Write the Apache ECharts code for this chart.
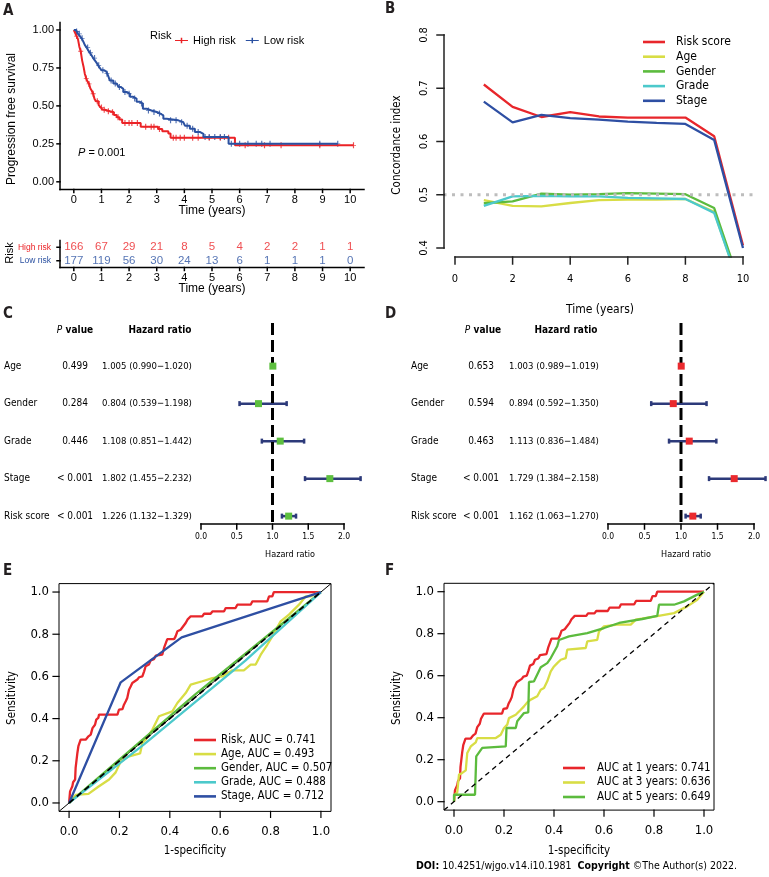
<!DOCTYPE html>
<html>
<head>
<meta charset="utf-8">
<script src="https://cdn.jsdelivr.net/npm/echarts@6/dist/echarts.min.js"></script>
<style>
html, body { margin: 0; padding: 0; background: #fff; }
#chart { width: 769px; height: 877px; background: #fff; }
</style>
</head>
<body>
<div id="chart"></div>
<script>
// ---------- A: Kaplan-Meier, [time, survival after the step] ----------
const kmHigh = [[0,1],[0.05,0.98],[0.1,0.96],[0.15,0.94],[0.2,0.89],[0.25,0.86],[0.3,0.8],[0.35,0.76],[0.4,0.71],[0.45,0.68],[0.5,0.66],[0.55,0.645],[0.6,0.615],[0.65,0.6],[0.7,0.58],[0.75,0.545],[0.8,0.53],[0.9,0.505],[0.97,0.49],[1.04,0.475],[1.12,0.465],[1.3,0.458],[1.45,0.44],[1.55,0.425],[1.65,0.41],[1.75,0.388],[2.42,0.362],[3.05,0.348],[3.2,0.333],[3.42,0.318],[3.5,0.29],[5.83,0.24],[10.12,0.24]];
const kmLow = [[0,1],[0.08,0.99],[0.15,0.975],[0.22,0.96],[0.28,0.945],[0.34,0.925],[0.4,0.9],[0.46,0.885],[0.52,0.866],[0.58,0.85],[0.64,0.833],[0.7,0.815],[0.76,0.8],[0.82,0.785],[0.88,0.767],[0.94,0.75],[1.0,0.735],[1.08,0.725],[1.18,0.712],[1.24,0.7],[1.3,0.668],[1.43,0.648],[1.55,0.636],[1.62,0.625],[1.7,0.612],[1.79,0.592],[1.91,0.58],[2.03,0.56],[2.15,0.548],[2.27,0.527],[2.39,0.515],[2.5,0.482],[2.63,0.47],[2.81,0.46],[3.0,0.45],[3.12,0.437],[3.24,0.416],[3.36,0.405],[3.78,0.393],[3.96,0.382],[4.02,0.37],[4.2,0.35],[4.38,0.328],[4.57,0.316],[4.69,0.295],[5.6,0.25],[9.55,0.25]];
const censorHigh = [0.1,0.25,0.45,0.55,0.7,0.85,1.0,1.1,1.25,1.4,1.6,1.85,2.0,2.1,2.3,2.6,2.8,2.9,3.1,3.6,3.7,3.85,4.0,4.3,4.5,4.9,5.3,5.6,6.2,6.9,7.5,8.9,10.12];
const censorLow = [0.1,0.2,0.3,0.5,0.6,0.75,0.9,1.05,1.2,1.35,1.5,1.65,1.85,2.0,2.2,2.45,2.7,2.9,3.1,3.5,3.7,3.9,4.1,4.3,4.5,4.75,4.9,5.1,5.3,5.45,5.7,6.0,6.3,6.6,6.8,7.1,8.9,9.55];
const riskTimes = [0,1,2,3,4,5,6,7,8,9,10];
const survTicks = [0,0.25,0.5,0.75,1];
const atRiskHigh = [166,67,29,21,8,5,4,2,2,1,1];
const atRiskLow = [177,119,56,30,24,13,6,1,1,1,0];

// ---------- B: concordance index over time ----------
const cYears = [1,2,3,4,5,6,7,8,9,10];
const cNames = ['Risk score','Age','Gender','Grade','Stage'];
const cRisk = [0.707,0.665,0.646,0.655,0.647,0.645,0.645,0.645,0.610,0.405];
const cAge = [0.490,0.479,0.478,0.4845,0.490,0.491,0.491,0.492,0.468,0.31];
const cGender = [0.484,0.4875,0.502,0.500,0.501,0.503,0.502,0.501,0.475,0.315];
const cGrade = [0.479,0.497,0.498,0.497,0.497,0.494,0.493,0.492,0.466,0.31];
const cStage = [0.675,0.636,0.650,0.644,0.641,0.6375,0.635,0.633,0.603,0.400];
const cXTicks = [0,2,4,6,8,10];
const cYTicks = [0.4,0.5,0.6,0.7,0.8];

// ---------- C / D: forest plots ----------
const fVars = ['Age','Gender','Grade','Stage','Risk score'];
const uniP = ['0.499','0.284','0.446','< 0.001','< 0.001'];
const uniHR = [1.005,0.804,1.108,1.802,1.226];
const uniLo = [0.990,0.539,0.851,1.455,1.132];
const uniHi = [1.020,1.198,1.442,2.232,1.329];
const multiP = ['0.653','0.594','0.463','< 0.001','< 0.001'];
const multiHR = [1.003,0.894,1.113,1.729,1.162];
const multiLo = [0.989,0.592,0.836,1.384,1.063];
const multiHi = [1.019,1.350,1.484,2.158,1.270];
const hrTicks = [0,0.5,1,1.5,2];

// ---------- E: ROC of risk score and clinical factors ----------
const rocRisk = [[0,0],[0.004,0.055],[0.013,0.079],[0.016,0.098],[0.024,0.111],[0.026,0.166],[0.033,0.237],[0.037,0.269],[0.046,0.3],[0.066,0.3],[0.077,0.316],[0.086,0.324],[0.093,0.355],[0.103,0.371],[0.108,0.395],[0.116,0.403],[0.119,0.419],[0.192,0.419],[0.198,0.442],[0.212,0.445],[0.218,0.466],[0.225,0.482],[0.231,0.498],[0.238,0.537],[0.245,0.553],[0.251,0.569],[0.271,0.585],[0.278,0.596],[0.291,0.6],[0.298,0.624],[0.304,0.648],[0.317,0.656],[0.324,0.676],[0.337,0.682],[0.344,0.698],[0.37,0.703],[0.377,0.735],[0.39,0.777],[0.417,0.777],[0.423,0.79],[0.43,0.814],[0.443,0.821],[0.463,0.853],[0.47,0.869],[0.483,0.885],[0.529,0.885],[0.536,0.897],[0.562,0.897],[0.569,0.908],[0.615,0.908],[0.622,0.924],[0.661,0.924],[0.668,0.94],[0.721,0.94],[0.728,0.956],[0.787,0.956],[0.794,0.979],[0.807,0.979],[0.813,1],[1,1]];
const rocAge = [[0,0],[0.026,0.038],[0.077,0.043],[0.116,0.077],[0.159,0.111],[0.185,0.145],[0.205,0.197],[0.235,0.22],[0.282,0.235],[0.291,0.284],[0.304,0.3],[0.331,0.348],[0.357,0.411],[0.41,0.434],[0.43,0.474],[0.463,0.521],[0.483,0.561],[0.529,0.577],[0.569,0.592],[0.608,0.6],[0.648,0.629],[0.694,0.629],[0.721,0.656],[0.741,0.656],[0.761,0.703],[0.787,0.75],[0.807,0.79],[0.84,0.861],[0.873,0.893],[0.913,0.94],[0.939,0.979],[0.959,0.979],[0.985,0.995],[1,1]];
const rocGender = [[0,0],[0.5,0.514],[1,1]];
const rocGrade = [[0,0],[0.3,0.28],[0.7,0.675],[1,1]];
const rocStage = [[0,0],[0.205,0.572],[0.447,0.785],[1,1]];
const rocNamesE = ['Risk, AUC = 0.741','Age, AUC = 0.493','Gender, AUC = 0.507','Grade, AUC = 0.488','Stage, AUC = 0.712'];

// ---------- F: time-dependent ROC ----------
const roc3y = [[0,0],[0.003,0.033],[0.013,0.044],[0.02,0.129],[0.033,0.137],[0.047,0.149],[0.053,0.232],[0.067,0.263],[0.087,0.283],[0.093,0.303],[0.167,0.303],[0.173,0.311],[0.187,0.319],[0.2,0.351],[0.213,0.367],[0.22,0.398],[0.247,0.414],[0.267,0.438],[0.28,0.454],[0.293,0.473],[0.307,0.486],[0.333,0.502],[0.347,0.533],[0.36,0.541],[0.373,0.573],[0.387,0.621],[0.4,0.644],[0.413,0.66],[0.427,0.676],[0.447,0.684],[0.453,0.724],[0.527,0.732],[0.533,0.763],[0.573,0.771],[0.58,0.811],[0.6,0.835],[0.653,0.843],[0.707,0.843],[0.727,0.867],[0.807,0.883],[0.88,0.898],[0.933,0.93],[0.973,0.962],[1,1]];
const roc5y = [[0,0],[0,0.033],[0.084,0.033],[0.089,0.216],[0.113,0.256],[0.207,0.263],[0.21,0.351],[0.247,0.351],[0.253,0.383],[0.28,0.422],[0.297,0.425],[0.3,0.57],[0.32,0.573],[0.335,0.61],[0.347,0.64],[0.373,0.66],[0.387,0.684],[0.413,0.74],[0.42,0.77],[0.46,0.787],[0.533,0.803],[0.6,0.827],[0.66,0.851],[0.753,0.87],[0.813,0.885],[0.82,0.938],[0.88,0.938],[0.92,0.954],[0.973,0.986],[1,1]];
const rocNamesF = ['AUC at 1 years: 0.741','AUC at 3 years: 0.636','AUC at 5 years: 0.649'];
const ticks01 = [0,0.2,0.4,0.6,0.8,1];

const ARIAL = "'Liberation Sans', Arial, sans-serif";
const TAH = "'DejaVu Sans Condensed', 'DejaVu Sans', sans-serif";
const RED = '#E8262B', YEL = '#D8DD45', GRN = '#5CBB3E', CYN = '#4CC9CB', BLU = '#2E4FA3';
const KMRED = '#EB2226', KMBLU = '#2B51A1', NAVY = '#2D3A7A';

function survAt(curve, t) {
    let s = 1;
    for (const p of curve) {
        if (p[0] <= t) s = p[1]; else break;
    }
    return s;
}
const zip = (xs, ys) => xs.map((x, i) => [x, ys[i]]);
const hrText = (hr, lo, hi) => hr.toFixed(3) + ' (' + lo.toFixed(3) + '\u2212' + hi.toFixed(3) + ')';
const plusIcon = 'path://M0,2.4H6.2V0H7.8V2.4H14V3.6H7.8V6H6.2V3.6H0Z';
const plusMark = 'path://M2.3,0H3.7V2.6H6V3.4H3.7V6H2.3V3.4H0V2.6H2.3Z';

const chart = echarts.init(document.getElementById('chart'));

// ECharts axes give the scales and the tick labels; lines and ticks are added after the first render
function labelAxis(extra) {
    return Object.assign({ type: 'value', splitLine: { show: false }, axisLine: { show: false, onZero: false }, axisTick: { show: false } }, extra);
}
function rocAxis(gi, margin) {
    return labelAxis({ gridIndex: gi, min: -0.04, max: 1.04,
        axisLabel: { customValues: ticks01, formatter: v => v.toFixed(1), fontSize: 13, fontFamily: TAH, color: '#000', margin: margin } });
}
function forestX(gi) {
    return labelAxis({ gridIndex: gi, min: 0, max: 2, interval: 0.5,
        axisLabel: { formatter: v => v.toFixed(1), fontSize: 8.5, fontFamily: TAH, color: '#000', margin: 8 } });
}
function forestCol(gi, offset, align, fmt, style) {
    return {
        type: 'value', gridIndex: gi, min: -0.15, max: 5.21, inverse: true,
        position: 'left', offset: offset,
        axisLine: { show: false }, axisTick: { show: false }, splitLine: { show: false },
        axisLabel: Object.assign({ customValues: [1,2,3,4,5], formatter: v => fmt(v - 1), align: align, margin: 0,
            fontSize: 10, fontFamily: TAH, color: '#000' }, style || {})
    };
}
function forestData(gi) {
    return { type: 'value', gridIndex: gi, min: -0.15, max: 5.21, inverse: true, show: false };
}
function forestSeries(xi, yi, hr, lo, hi, sqColor) {
    const rows = hr.map((v, i) => [v, lo[i], hi[i], i + 1]);
    return [
        {
            type: 'custom', xAxisIndex: xi, yAxisIndex: yi, clip: false, z: 1, data: rows,
            renderItem: function (params, api) {
                const y = api.coord([0, api.value(3)])[1];
                const x1 = api.coord([api.value(1), 0])[0];
                const x2 = api.coord([api.value(2), 0])[0];
                const st = { stroke: NAVY, lineWidth: 2.5 };
                return { type: 'group', children: [
                    { type: 'line', shape: { x1: x1, y1: y, x2: x2, y2: y }, style: st },
                    { type: 'line', shape: { x1: x1, y1: y - 2.5, x2: x1, y2: y + 2.5 }, style: st },
                    { type: 'line', shape: { x1: x2, y1: y - 2.5, x2: x2, y2: y + 2.5 }, style: st }
                ] };
            }
        },
        {
            type: 'line', xAxisIndex: xi, yAxisIndex: yi, z: 2, symbol: 'none', silent: true,
            data: [[1, -0.15], [1, 5.21]],
            lineStyle: { color: '#000', width: 3, type: [12, 5] }
        },
        {
            type: 'custom', xAxisIndex: xi, yAxisIndex: yi, clip: false, z: 3, data: rows,
            renderItem: function (params, api) {
                const p = api.coord([api.value(0), api.value(3)]);
                return { type: 'rect', shape: { x: p[0] - 3.5, y: p[1] - 3.5, width: 7, height: 7 }, style: { fill: sqColor } };
            }
        }
    ];
}
function rocLine(name, data, color, xi, w) {
    return { name: name, type: 'line', xAxisIndex: xi, yAxisIndex: xi === 6 ? 12 : 13, data: data,
        symbol: 'none', lineStyle: { color: color, width: w || 2.3 }, itemStyle: { color: color } };
}
function cLine(name, vals, color) {
    return { name: name, type: 'line', xAxisIndex: 2, yAxisIndex: 2, data: zip(cYears, vals),
        symbol: 'none', lineStyle: { color: color, width: 2.3 }, itemStyle: { color: color } };
}
function lineLegend(names, left, top, gap, fontSize, pad) {
    return { data: names, left: left, top: top, orient: 'vertical', icon: 'rect', itemWidth: 22, itemHeight: 2.6,
        itemGap: gap, selectedMode: false,
        textStyle: { fontSize: fontSize, lineHeight: 10, fontFamily: TAH, color: '#000', padding: [0, 0, 0, pad] } };
}

const option = {
    animation: false,
    grid: [
        { left: 60, top: 22.4, width: 304, height: 167, show: false },     // 0 A
        { left: 60, top: 240.5, width: 304, height: 27, show: false },     // 1 table
        { left: 443.5, top: 26.5, width: 311, height: 230, show: false },  // 2 B data
        { left: 455, top: 35, width: 288, height: 213, show: false },      // 3 B axes
        { left: 201, top: 323, width: 143, height: 201, show: false },     // 4 C
        { left: 608, top: 323, width: 146, height: 201, show: false },     // 5 D
        { left: 59, top: 583.6, width: 272, height: 227.8, show: true, borderColor: '#000', borderWidth: 1 }, // 6 E
        { left: 444, top: 583.3, width: 270, height: 226.8, show: true, borderColor: '#000', borderWidth: 1 }  // 7 F
    ],
    xAxis: [
        labelAxis({ gridIndex: 0, min: -0.5, max: 10.5,
            axisLabel: { customValues: riskTimes, fontSize: 11, fontFamily: ARIAL, color: '#000', margin: 5 } }),
        labelAxis({ gridIndex: 1, min: -0.5, max: 10.5,
            axisLabel: { customValues: riskTimes, fontSize: 11, fontFamily: ARIAL, color: '#000', margin: 5 } }),
        { type: 'value', gridIndex: 2, min: -0.4, max: 10.4, show: false },
        labelAxis({ gridIndex: 3, min: 0, max: 10, interval: 2, offset: 9,
            axisLabel: { fontSize: 11, fontFamily: TAH, color: '#000', margin: 17 } }),
        forestX(4),
        forestX(5),
        rocAxis(6, 14),
        rocAxis(7, 14)
    ],
    yAxis: [
        labelAxis({ gridIndex: 0, min: -0.05, max: 1.05,
            axisLabel: { customValues: survTicks, formatter: v => v.toFixed(2), fontSize: 11, fontFamily: ARIAL, color: '#000', margin: 6 } }),
        { type: 'category', gridIndex: 1, data: ['Low risk', 'High risk'],
            axisLine: { show: false, onZero: false }, axisTick: { show: false },
            axisLabel: { margin: 9, fontFamily: ARIAL, fontSize: 8.5,
                formatter: v => v === 'High risk' ? '{h|High risk}' : '{l|Low risk}',
                rich: { h: { color: KMRED, fontSize: 8.5, fontFamily: ARIAL }, l: { color: KMBLU, fontSize: 8.5, fontFamily: ARIAL } } } },
        { type: 'value', gridIndex: 2, min: 0.384, max: 0.816, show: false },
        labelAxis({ gridIndex: 3, min: 0.4, max: 0.8, interval: 0.1, offset: 11,
            axisLabel: { rotate: 90, formatter: v => v.toFixed(1), fontSize: 11, fontFamily: TAH, color: '#000', margin: 14 } }),
        forestData(4),
        forestCol(4, 197, 'left', i => fVars[i]),
        forestCol(4, 126, 'center', i => uniP[i]),
        forestCol(4, 99, 'left', i => hrText(uniHR[i], uniLo[i], uniHi[i]), { fontSize: 9.5 }),
        forestData(5),
        forestCol(5, 197, 'left', i => fVars[i]),
        forestCol(5, 127, 'center', i => multiP[i]),
        forestCol(5, 99, 'left', i => hrText(multiHR[i], multiLo[i], multiHi[i]), { fontSize: 9.5 }),
        rocAxis(6, 10),
        rocAxis(7, 10)
    ],
    legend: [
        { data: ['High risk', 'Low risk'], left: 170, top: 30, orient: 'horizontal', icon: plusIcon,
            itemWidth: 13, itemHeight: 6, itemGap: 10, selectedMode: false,
            textStyle: { fontSize: 11, fontFamily: ARIAL, color: '#000' } },
        lineLegend(cNames, 638, 31, 2.7, 12, 6),
        lineLegend(rocNamesE, 189, 729, 2.1, 11.5, 0),
        lineLegend(rocNamesF, 558, 757, 2.5, 11.5, 7)
    ],
    series: [
        // A
        { name: 'High risk', type: 'line', xAxisIndex: 0, yAxisIndex: 0, step: 'end', data: kmHigh, symbol: 'none',
            lineStyle: { color: KMRED, width: 2 }, itemStyle: { color: KMRED } },
        { name: 'Low risk', type: 'line', xAxisIndex: 0, yAxisIndex: 0, step: 'end', data: kmLow, symbol: 'none',
            lineStyle: { color: KMBLU, width: 2 }, itemStyle: { color: KMBLU } },
        { name: 'High risk', type: 'scatter', xAxisIndex: 0, yAxisIndex: 0, symbol: plusMark, symbolSize: [5, 6],
            data: censorHigh.map(t => [t, survAt(kmHigh, t)]), itemStyle: { color: KMRED } },
        { name: 'Low risk', type: 'scatter', xAxisIndex: 0, yAxisIndex: 0, symbol: plusMark, symbolSize: [5, 6],
            data: censorLow.map(t => [t, survAt(kmLow, t)]), itemStyle: { color: KMBLU } },
        // risk table
        { type: 'scatter', xAxisIndex: 1, yAxisIndex: 1, symbolSize: 1, itemStyle: { color: 'rgba(0,0,0,0)' },
            data: riskTimes.map((t, i) => [t, 'High risk', atRiskHigh[i]]),
            label: { show: true, position: 'inside', formatter: p => p.value[2], color: KMRED, fontSize: 11.5, fontFamily: ARIAL } },
        { type: 'scatter', xAxisIndex: 1, yAxisIndex: 1, symbolSize: 1, itemStyle: { color: 'rgba(0,0,0,0)' },
            data: riskTimes.map((t, i) => [t, 'Low risk', atRiskLow[i]]),
            label: { show: true, position: 'inside', formatter: p => p.value[2], color: KMBLU, fontSize: 11.5, fontFamily: ARIAL } },
        // B
        cLine('Risk score', cRisk, RED),
        cLine('Age', cAge, YEL),
        cLine('Gender', cGender, GRN),
        cLine('Grade', cGrade, CYN),
        cLine('Stage', cStage, BLU),
        { type: 'line', xAxisIndex: 2, yAxisIndex: 2, symbol: 'none', silent: true, z: 5,
            data: [[-0.4, 0.5], [10.4, 0.5]], lineStyle: { color: '#BDBDBD', width: 3, type: [3, 5.5] } },
        // C, D
        ...forestSeries(4, 4, uniHR, uniLo, uniHi, '#5DBF3F'),
        ...forestSeries(5, 8, multiHR, multiLo, multiHi, '#EA2A2E'),
        // E
        { type: 'line', xAxisIndex: 6, yAxisIndex: 12, symbol: 'none', silent: true, data: [[-0.04, -0.04], [1.04, 1.04]],
            lineStyle: { color: '#000', width: 1 } },
        rocLine(rocNamesE[0], rocRisk, RED, 6),
        rocLine(rocNamesE[1], rocAge, YEL, 6),
        rocLine(rocNamesE[2], rocGender, GRN, 6),
        rocLine(rocNamesE[3], rocGrade, CYN, 6),
        rocLine(rocNamesE[4], rocStage, BLU, 6),
        { type: 'line', xAxisIndex: 6, yAxisIndex: 12, symbol: 'none', silent: true, z: 5, data: [[0, 0], [1, 1]],
            lineStyle: { color: '#000', width: 1.8, type: [6, 4] } },
        // F
        rocLine(rocNamesF[0], rocRisk, RED, 7),
        rocLine(rocNamesF[1], roc3y, YEL, 7),
        rocLine(rocNamesF[2], roc5y, GRN, 7),
        { type: 'line', xAxisIndex: 7, yAxisIndex: 13, symbol: 'none', silent: true, z: 5, data: [[-0.04, -0.04], [1.04, 1.04]],
            lineStyle: { color: '#000', width: 1.3, type: [5, 4] } }
    ],
    graphic: [
        // panel letters
        ...[['A', 3, 11], ['B', 385, 9], ['C', 3, 314], ['D', 385, 314], ['E', 3, 571], ['F', 385, 571]].map(l => ({
            type: 'text', x: l[1], y: l[2], style: { text: l[0], fontSize: 15, fontWeight: 'bold', fontFamily: TAH, fill: '#231F20', verticalAlign: 'middle' } })),
        // A texts
        { type: 'text', x: 12, y: 119, rotation: Math.PI / 2, style: { text: 'Progression free survival', fontSize: 12, fontFamily: ARIAL, fill: '#000', align: 'center', verticalAlign: 'middle' } },
        { type: 'text', x: 212, y: 211, style: { text: 'Time (years)', fontSize: 12, fontFamily: ARIAL, fill: '#000', align: 'center', verticalAlign: 'middle' } },
        { type: 'text', x: 150, y: 36, style: { text: 'Risk', fontSize: 11, fontFamily: ARIAL, fill: '#000', verticalAlign: 'middle' } },
        { type: 'text', x: 78, y: 153, style: { text: '{i|P} = 0.001', fontSize: 11, fontFamily: ARIAL, fill: '#000', verticalAlign: 'middle',
            rich: { i: { fontStyle: 'italic', fontSize: 11, fontFamily: ARIAL } } } },
        { type: 'text', x: 10, y: 253, rotation: Math.PI / 2, style: { text: 'Risk', fontSize: 11, fontFamily: ARIAL, fill: '#000', align: 'center', verticalAlign: 'middle' } },
        { type: 'text', x: 212, y: 289, style: { text: 'Time (years)', fontSize: 12, fontFamily: ARIAL, fill: '#000', align: 'center', verticalAlign: 'middle' } },
        // B texts
        { type: 'text', x: 397, y: 145, rotation: Math.PI / 2, style: { text: 'Concordance index', fontSize: 11.5, fontFamily: TAH, fill: '#000', align: 'center', verticalAlign: 'middle' } },
        { type: 'text', x: 600, y: 310, style: { text: 'Time (years)', fontSize: 12, fontFamily: TAH, fill: '#000', align: 'center', verticalAlign: 'middle' } },
        // C / D headers
        ...[[75, 160], [483, 566]].map(h => [
            { type: 'text', x: h[0], y: 330, style: { text: '{i|P} {b|value}', align: 'center', verticalAlign: 'middle', fill: '#000',
                rich: { i: { fontStyle: 'italic', fontSize: 10, fontFamily: TAH }, b: { fontWeight: 'bold', fontSize: 10, fontFamily: TAH } } } },
            { type: 'text', x: h[1], y: 330, style: { text: 'Hazard ratio', fontWeight: 'bold', fontSize: 10, fontFamily: TAH, fill: '#000', align: 'center', verticalAlign: 'middle' } }
        ]).flat(),
        { type: 'text', x: 290, y: 555, style: { text: 'Hazard ratio', fontSize: 9, fontFamily: TAH, fill: '#000', align: 'center', verticalAlign: 'middle' } },
        { type: 'text', x: 686, y: 555, style: { text: 'Hazard ratio', fontSize: 9, fontFamily: TAH, fill: '#000', align: 'center', verticalAlign: 'middle' } },
        // E / F axis titles
        { type: 'text', x: 12, y: 698, rotation: Math.PI / 2, style: { text: 'Sensitivity', fontSize: 11.5, fontFamily: TAH, fill: '#000', align: 'center', verticalAlign: 'middle' } },
        { type: 'text', x: 195, y: 851, style: { text: '1-specificity', fontSize: 11.5, fontFamily: TAH, fill: '#000', align: 'center', verticalAlign: 'middle' } },
        { type: 'text', x: 397, y: 698, rotation: Math.PI / 2, style: { text: 'Sensitivity', fontSize: 11.5, fontFamily: TAH, fill: '#000', align: 'center', verticalAlign: 'middle' } },
        { type: 'text', x: 579, y: 851, style: { text: '1-specificity', fontSize: 11.5, fontFamily: TAH, fill: '#000', align: 'center', verticalAlign: 'middle' } },
        // footer
        { type: 'text', x: 737, y: 866, style: { text: '{b|DOI:} 10.4251/wjgo.v14.i10.1981  {b|Copyright} \u00A9The Author(s) 2022.',
            fontSize: 10.5, fontFamily: TAH, fill: '#000', align: 'right', verticalAlign: 'middle',
            rich: { b: { fontWeight: 'bold', fontSize: 10.5, fontFamily: TAH } } } }
    ]
};

chart.setOption(option);

// axis lines and tick marks, placed through the rendered axes' own scales
const axisMarks = [];
function seg(x1, y1, x2, y2, color, w) {
    axisMarks.push({ type: 'line', z: 100, silent: true, shape: { x1: x1, y1: y1, x2: x2, y2: y2 },
        style: { stroke: color || '#000', lineWidth: w || 1.5, lineCap: 'square' } });
}
function drawAxes(xi, yi, o) {
    const P = (x, y) => chart.convertToPixel({ xAxisIndex: xi, yAxisIndex: yi }, [x, y]);
    const w = o.width || 1.5;
    if (o.x) {
        const base = P(o.x.span[0], o.x.at);
        const y = base[1] + (o.x.offset || 0) + (o.x.shift || 0);
        if (o.x.line) seg(base[0], y, P(o.x.span[1], o.x.at)[0], y, o.color, w);
        o.x.ticks.forEach(t => { const x = P(t, o.x.at)[0]; seg(x, y, x, y + o.tick, o.color, w); });
    }
    if (o.y) {
        const x = P(o.y.at, o.y.span[0])[0] - (o.y.offset || 0);
        const y1 = P(o.y.at, o.y.span[0])[1] + (o.y.pad || 0);
        const y2 = P(o.y.at, o.y.span[1])[1] - (o.y.pad || 0);
        if (o.y.line) seg(x, y1, x, y2, o.color, w);
        o.y.ticks.forEach(t => { const y = P(o.y.at, t)[1]; seg(x - o.tick, y, x, y, o.color, w); });
    }
}
drawAxes(0, 0, { tick: 3, x: { at: -0.05, span: [-0.5, 10.5], line: true, ticks: riskTimes },
    y: { at: -0.5, span: [-0.05, 1.05], line: true, ticks: survTicks } });
// table: category rows are one band apart, the axis lines sit half a band outside them
const tLow = chart.convertToPixel({ xAxisIndex: 1, yAxisIndex: 1 }, [0, 0])[1];
const tHigh = chart.convertToPixel({ xAxisIndex: 1, yAxisIndex: 1 }, [0, 1])[1];
const half = (tLow - tHigh) / 2;
drawAxes(1, 1, { tick: 3, x: { at: 0, span: [-0.5, 10.5], shift: half, line: true, ticks: riskTimes },
    y: { at: -0.5, span: [0, 1], pad: half, line: true, ticks: [0, 1] } });
drawAxes(3, 3, { tick: 7, color: '#222', x: { at: 0.4, span: [0, 10], offset: 9, line: true, ticks: cXTicks },
    y: { at: 0, span: [0.4, 0.8], offset: 11, line: true, ticks: cYTicks } });
drawAxes(4, 4, { tick: 5, x: { at: 5.21, span: [0, 2], line: true, ticks: hrTicks } });
drawAxes(5, 8, { tick: 5, x: { at: 5.21, span: [0, 2], line: true, ticks: hrTicks } });
drawAxes(6, 12, { tick: 6, width: 1.2, x: { at: -0.04, span: [-0.04, 1.04], line: false, ticks: ticks01 },
    y: { at: -0.04, span: [-0.04, 1.04], line: false, ticks: ticks01 } });
drawAxes(7, 13, { tick: 6, width: 1.2, x: { at: -0.04, span: [-0.04, 1.04], line: false, ticks: ticks01 },
    y: { at: -0.04, span: [-0.04, 1.04], line: false, ticks: ticks01 } });

option.graphic = option.graphic.concat(axisMarks);
chart.setOption(option, true);
</script>
</body>
</html>
